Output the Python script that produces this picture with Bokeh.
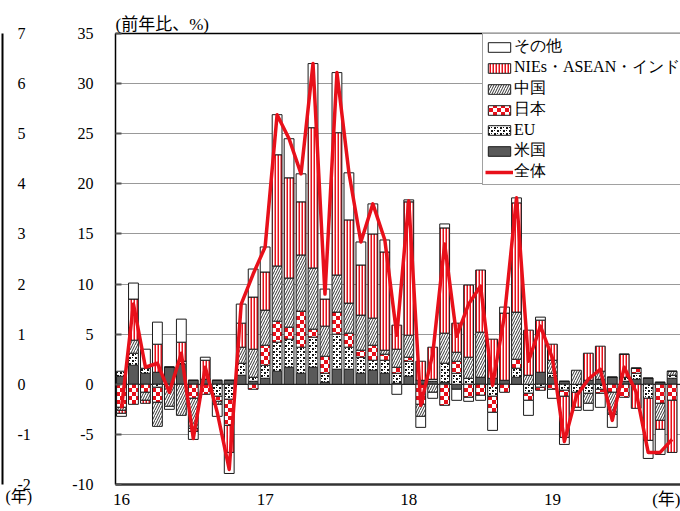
import zlib, struct, base64
from bokeh.plotting import figure
from bokeh.layouts import row
from bokeh.core.properties import value
from bokeh.models import (ColumnDataSource, Range1d, FixedTicker, Legend, LegendItem,
                          LinearAxis, Span, Title, ImageURLTexture)
from bokeh.embed import file_html
from bokeh.resources import INLINE

# ---- data: monthly contributions to y/y export growth (%pt), Jan 2016 .. Nov 2019
month_idx = list(range(47))
year_ticks = [0, 12, 24, 36, 45.55]
year_labels = ["16", "17", "18", "19", "(年)"]
y_ticks = [-10, -5, 0, 5, 10, 15, 20, 25, 30, 35]
y_labels = ["-10", "-5", "0", "5", "10", "15", "20", "25", "30", "35"]
side_ticks = [-2, -1, 0, 1, 2, 3, 4, 5, 6, 7]
side_labels = ["-2", "-1", "0", "1", "2", "3", "4", "5", "6", "7"]

us = [0.8, 1.9, 1.1, 1.2, 1.7, 2.0, 0.4, 0.5, 0.4, 0.4, 0.9, 0.3,
      0.6, 1.3, 1.7, 1.1, 1.7, 0.2, 1.5, 1.5, 1.1, 1.4, 1.1, 0.1,
      0.8, 0.4, 0.3, 0.2, -0.5, 0.0, 0.7, 0.6, 0.4, 0.7, 0.0, 1.2,
      0.7, 0.3, 0.0, 0.4, 0.5, 0.7, 0.3, 0.5, 0.6, 0.2, 0.6]
eu = [0.5, 1.2, 0.5, -0.3, 0.0, 0.3, 0.0, 0.0, -1.2, -1.5, 1.2, 0.4,
      1.3, 2.9, 2.8, 2.6, 3.0, 0.9, 3.5, 2.2, 1.6, 1.0, 1.3, 1.0,
      1.5, 0.0, 0.2, 1.9, 1.1, 0.6, 0.0, -1.2, 0.0, 0.9, -0.9, -0.3,
      0.4, -0.6, -0.8, -0.9, -0.5, 0.0, 0.4, 0.6, -1.4, 0.0, 0.3]
jp = [-2.3, -2.0, -0.8, -1.5, 0.0, 0.0, -1.4, -1.0, -0.5, -2.6, 0.0, -0.5,
      2.0, 2.1, 1.2, 3.6, 0.8, 1.7, 2.2, 1.4, 0.7, 1.5, 0.6, 0.6,
      0.4, -2.0, 0.0, -2.1, 1.2, -1.3, -1.1, -1.6, -0.8, 0.9, -0.7, -0.3,
      -0.5, -0.6, 0.0, 0.0, -0.4, -0.8, -1.3, 0.5, 0.0, -1.9, -1.6]
cn = [-0.3, 1.3, -0.8, -2.4, -2.2, -3.1, -3.0, 0.0, -0.3, 0.0, 1.6, 2.8,
      3.5, 5.5, 4.9, 5.6, 6.1, 3.0, 3.7, 3.0, 3.5, 2.7, 0.4, 1.8,
      2.2, -1.2, -0.8, 3.0, 0.9, 2.1, 4.5, 0.0, 0.0, 4.7, 0.9, 0.0,
      1.3, 0.0, 1.4, -1.0, 0.8, -2.2, 0.0, 0.0, 0.0, -1.7, 0.4]
nies = [-0.3, 4.1, -0.3, 2.8, 0.0, 1.9, -0.3, 1.9, 0.0, -2.7, 2.4, 5.2,
        3.8, 11.1, 10.0, 5.3, 14.0, 2.7, 14.2, 8.3, 5.0, 8.4, 9.8, 2.4,
        13.3, 1.9, 3.2, 10.5, 2.9, 7.2, 6.2, 3.9, 6.7, 10.9, 4.5, 5.2,
        1.6, -4.1, -1.5, 2.7, 2.5, 0.0, 2.3, -2.4, -4.2, -0.9, -5.2]
oth = [-0.3, 1.6, 1.9, 2.2, -0.3, 2.3, -0.8, 0.3, -1.2, -2.1, 1.9, 2.8,
       2.5, 4.0, 3.9, 2.8, 6.4, 1.0, 6.0, 4.7, 2.3, 3.0, 1.2, -1.0,
       0.2, -1.1, -0.6, 0.4, -1.1, -0.4, -0.5, -1.8, 0.6, 0.5, -1.5, 0.3,
       -0.9, -0.7, -0.3, -0.7, -1.4, -1.3, 0.0, 0.0, -1.8, -2.5, 0.0]
total = [-2.4, 8.0, 1.7, 2.1, -0.8, 3.1, -5.4, 1.7, -2.8, -8.5, 8.0, 11.0,
         13.7, 26.9, 24.5, 21.0, 32.0, 9.0, 31.1, 21.1, 14.2, 18.0, 14.4, 4.9,
         18.3, -2.1, 3.0, 14.0, 4.8, 8.0, 9.8, -0.1, 6.9, 18.6, 2.3, 5.8,
         2.6, -5.7, -1.2, 0.5, 1.5, -3.6, 1.7, -0.8, -6.8, -6.8, -5.5]

series_names = ["米国", "EU", "日本", "中国", "NIEs・ASEAN・インド", "その他"]
series_vals = [us, eu, jp, cn, nies, oth]

SERIF = "Liberation Serif, Noto Sans CJK JP"
RED = "#e8101a"
BAR_W = 0.82
H = 511
TOP, BOTTOM = 33, 26


def png_data_uri(rows):
    raw = b"".join(b"\x00" + bytes(c for px in r for c in px) for r in rows)

    def chunk(t, d):
        return struct.pack(">I", len(d)) + t + d + struct.pack(">I", zlib.crc32(t + d) & 0xffffffff)
    png = (b"\x89PNG\r\n\x1a\n" +
           chunk(b"IHDR", struct.pack(">IIBBBBB", len(rows[0]), len(rows), 8, 6, 0, 0, 0)) +
           chunk(b"IDAT", zlib.compress(raw)) + chunk(b"IEND", b""))
    return "data:image/png;base64," + base64.b64encode(png).decode()


WHITE_PX = (255, 255, 255, 255)
RED_PX = (232, 16, 26, 255)
BLACK_PX = (20, 20, 20, 255)
# red/white checker, 4 px squares
checker_tex = ImageURLTexture(url=png_data_uri(
    [[RED_PX if ((cx // 4) + (cy // 4)) % 2 == 0 else WHITE_PX for cx in range(8)]
     for cy in range(8)]))
# fine black speckle on white
_speckle = ["110100",
            "110000",
            "000000",
            "100110",
            "000110",
            "000000"]
speckle_tex = ImageURLTexture(url=png_data_uri(
    [[BLACK_PX if ch == "1" else WHITE_PX for ch in line] for line in _speckle]))
textures = {"chk": checker_tex, "spk": speckle_tex}

# ---------------- main figure
main = figure(width=620, height=H, output_backend="svg", toolbar_location=None,
              x_range=Range1d(-0.5, 46.70), y_range=Range1d(-10, 35),
              min_border_left=55, min_border_right=0, min_border_top=TOP,
              min_border_bottom=BOTTOM)
main.outline_line_color = None
main.background_fill_color = "white"
main.border_fill_color = "white"

main.xgrid.grid_line_color = None
main.ygrid.ticker = FixedTicker(ticks=y_ticks)
main.ygrid.grid_line_color = "#333333"
main.ygrid.grid_line_dash = "1 1"
main.ygrid.grid_line_width = 1

main.yaxis.ticker = FixedTicker(ticks=y_ticks)
main.yaxis.major_label_overrides = {t: s for t, s in zip(y_ticks, y_labels)}
main.yaxis.major_label_text_font = SERIF
main.yaxis.major_label_text_font_size = "16px"
main.yaxis.major_label_text_color = "black"
main.yaxis.major_label_standoff = 22
main.yaxis.major_tick_in = 6
main.yaxis.major_tick_out = 0
main.yaxis.major_tick_line_width = 2
main.yaxis.major_tick_line_color = "#555555"
main.yaxis.minor_tick_line_color = None
main.yaxis.axis_line_color = "black"
main.yaxis.axis_line_width = 1.5

main.xaxis.ticker = FixedTicker(ticks=year_ticks)
main.xaxis.major_label_overrides = {t: s for t, s in zip(year_ticks, year_labels)}
main.xaxis.major_label_text_font = SERIF
main.xaxis.major_label_text_font_size = "17px"
main.xaxis.major_label_text_color = "black"
main.xaxis.major_label_standoff = 5
main.xaxis.major_tick_in = 0
main.xaxis.major_tick_out = 0
main.xaxis.minor_tick_line_color = None
main.xaxis.axis_line_color = "#333333"
main.xaxis.axis_line_width = 2.5

top_axis = LinearAxis(ticker=FixedTicker(ticks=[]), major_tick_out=0, major_tick_in=0,
                      minor_tick_out=0, minor_tick_in=0, axis_line_color="black",
                      axis_line_width=1.5, major_label_standoff=0,
                      major_label_text_font_size="0px")
main.add_layout(top_axis, "above")
main.add_layout(Title(text="(前年比、%)", align="left", text_font=SERIF,
                      text_font_size="17px", text_font_style="normal",
                      text_color="black", standoff=0, offset=0), "above")

main.add_layout(Span(location=0, dimension="width", line_color="black", line_width=1,
                     level="underlay"))

styles = {
    "米国": dict(fill_color="#595959"),
    "EU": dict(fill_color="white", hatch_pattern=value("spk"), hatch_extra=textures,
               hatch_scale=6),
    "日本": dict(fill_color="white", hatch_pattern=value("chk"), hatch_extra=textures,
                 hatch_scale=8),
    "中国": dict(fill_color="white", hatch_pattern="/", hatch_color="#333333",
                 hatch_scale=5, hatch_weight=1),
    "NIEs・ASEAN・インド": dict(fill_color="white", hatch_pattern="|", hatch_color=RED,
                           hatch_scale=3, hatch_weight=2),
    "その他": dict(fill_color="white"),
}

pos_base = [0.0] * len(month_idx)
neg_base = [0.0] * len(month_idx)
renderers = {}
for name, vals in zip(series_names, series_vals):
    bottoms, tops = [], []
    for k, v in enumerate(vals):
        if v >= 0:
            bottoms.append(pos_base[k]); tops.append(pos_base[k] + v); pos_base[k] += v
        else:
            bottoms.append(neg_base[k]); tops.append(neg_base[k] + v); neg_base[k] += v
    src = ColumnDataSource(dict(x=month_idx, bottom=bottoms, top=tops))
    renderers[name] = main.vbar(x="x", bottom="bottom", top="top", width=BAR_W, source=src,
                                line_color="#1a1a1a", line_width=1, **styles[name])

line_src = ColumnDataSource(dict(x=month_idx, y=total))
r_total = main.line("x", "y", source=line_src, line_color=RED, line_width=3.5,
                    line_join="round")

legend_order = ["その他", "NIEs・ASEAN・インド", "中国", "日本", "EU", "米国"]
items = [LegendItem(label=n, renderers=[renderers[n]]) for n in legend_order]
items.append(LegendItem(label="全体", renderers=[r_total]))
legend = Legend(items=items, location=(367, 299))
legend.label_text_font = "Liberation Serif"
legend.label_text_font_size = "16px"
legend.label_text_line_height = 1.0
legend.label_text_color = "black"
legend.glyph_width = 28
legend.glyph_height = 12
legend.label_height = 20
legend.spacing = 0
legend.padding = 2
legend.margin = 0
legend.label_standoff = 1
legend.border_line_color = "#444444"
legend.border_line_width = 1
legend.background_fill_color = "white"
legend.background_fill_alpha = 1
main.add_layout(legend)

# ---------------- neighbouring panel's right-hand scale (left edge of the picture)
side = figure(width=60, height=H, output_backend="svg", toolbar_location=None,
              x_range=Range1d(0, 1), y_range=Range1d(-2, 7),
              x_axis_location=None, y_axis_location="right",
              min_border_left=0, min_border_right=58, min_border_top=TOP,
              min_border_bottom=BOTTOM)
side.outline_line_color = None
side.grid.grid_line_color = None
side.yaxis.ticker = FixedTicker(ticks=side_ticks)
side.yaxis.major_label_overrides = {t: s for t, s in zip(side_ticks, side_labels)}
side.yaxis.major_label_text_font = SERIF
side.yaxis.major_label_text_font_size = "16px"
side.yaxis.major_label_text_color = "black"
side.yaxis.major_label_standoff = 15
side.yaxis.major_tick_in = 0
side.yaxis.major_tick_out = 0
side.yaxis.minor_tick_line_color = None
side.yaxis.axis_line_color = "black"
side.yaxis.axis_line_width = 2
side.add_layout(Title(text="(年)", align="left", text_font=SERIF, text_font_size="16px",
                      text_font_style="normal", text_color="black", standoff=3,
                      offset=5), "below")

layout = row(side, main)
open("out.html", "w").write(file_html(layout, INLINE))
